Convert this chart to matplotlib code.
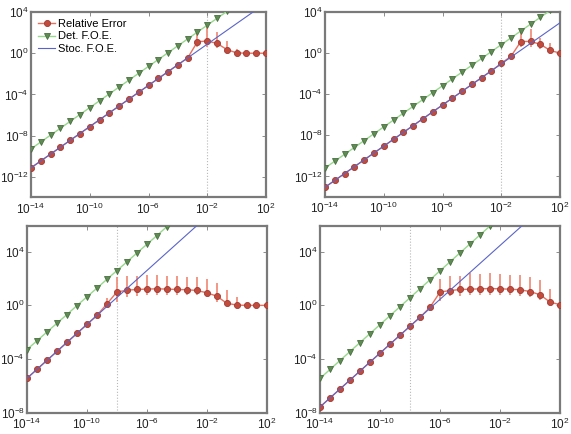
import numpy as np
import matplotlib
matplotlib.use("Agg")
import matplotlib.pyplot as plt
from matplotlib.ticker import FixedLocator, LogFormatterMathtext, NullLocator

plt.rcParams['font.family'] = ['Liberation Sans', 'DejaVu Sans']
plt.rcParams['mathtext.fontset'] = 'custom'
plt.rcParams['mathtext.rm'] = 'Liberation Sans'
plt.rcParams['mathtext.it'] = 'Liberation Sans'

# log10 of the step sizes (25 points, 2/3 decade apart)
x_exp = [-14, -13.33, -12.67, -12, -11.33, -10.67, -10, -9.33, -8.67, -8, -7.33, -6.67,
         -6, -5.33, -4.67, -4, -3.33, -2.67, -2, -1.33, -0.67, 0, 0.67, 1.33, 2]

# ---- top left ----
tl_rel = [-11.12, -10.45, -9.79, -9.12, -8.45, -7.79, -7.12, -6.45, -5.79, -5.12, -4.45, -3.79,
          -3.12, -2.45, -1.79, -1.12, -0.45, 1.11, 1.18, 0.95, 0.36, 0.03, 0.0, 0.0, 0.0]
tl_lo = [None] * 17 + [0.62, 0.56, 0.46, 0.2, 0.0, None, None, None]
tl_hi = [None] * 17 + [2.1, 2.5, 2.1, 1.2, 0.45, None, None, None]
tl_det = [-9.28, -8.61, -7.95, -7.28, -6.61, -5.95, -5.28, -4.61, -3.95, -3.28, -2.61, -1.95,
          -1.28, -0.61, 0.05, 0.72, 1.39, 2.05, 2.72, 3.39, 4.05, 4.72, 5.39, 6.05, 6.72]
tl_stoc = [-11.12, 4.88]

# ---- top right ----
tr_rel = [-13.05, -12.38, -11.72, -11.05, -10.38, -9.72, -9.05, -8.38, -7.72, -7.05, -6.38, -5.72,
          -5.05, -4.38, -3.72, -3.05, -2.38, -1.72, -1.0, -0.3, 1.12, 1.14, 0.85, 0.26, 0.0]
tr_lo = [None] * 20 + [0.58, 0.58, 0.43, 0.1, None]
tr_hi = [None] * 20 + [2.2, 2.3, 1.45, 1.0, None]
tr_det = [-11.18, -10.51, -9.85, -9.18, -8.51, -7.85, -7.18, -6.51, -5.85, -5.18, -4.51, -3.85,
          -3.18, -2.51, -1.85, -1.18, -0.51, 0.15, 0.82, 1.49, 2.15, 2.82, 3.49, 4.15, 4.82]
tr_stoc = [-13.05, 2.95]

# ---- bottom left ----
bl_rel = [-5.42, -4.75, -4.09, -3.42, -2.75, -2.09, -1.42, -0.75, 0.1, 0.99, 1.13, 1.18,
          1.21, 1.23, 1.21, 1.18, 1.16, 1.11, 0.94, 0.69, 0.17, 0.02, 0.0, 0.0, 0.0]
bl_lo = [None] * 8 + [-0.1, 0.27, 0.64, 0.72, 0.79, 0.79, 0.79, 0.79, 0.79, 0.79, 0.72, 0.27,
                      0.05, 0.0, None, None, None]
bl_hi = [None] * 8 + [0.57, 2.13, 2.2, 2.2, 2.27, 2.27, 2.2, 2.2, 2.13, 2.13, 1.98, 1.68,
                      1.16, 0.64, None, None, None]
bl_det = [-3.28, -2.63, -1.98, -1.33, -0.68, -0.02, 0.63, 1.28, 1.93, 2.58, 3.23, 3.88,
          4.53, 5.18, 5.84, 6.49, 7.14, 7.79, 8.44, 9.09, 9.74, 10.39, 11.04, 11.69, 12.34]
bl_stoc = [-5.42, 10.58]

# ---- bottom right ----
br_rel = [-7.55, -6.88, -6.22, -5.55, -4.88, -4.22, -3.55, -2.88, -2.22, -1.55, -0.88, -0.15,
          0.99, 1.1, 1.18, 1.2, 1.23, 1.25, 1.23, 1.2, 1.16, 1.03, 0.79, 0.25, 0.05]
br_lo = [None] * 12 + [0.3, 0.67, 0.72, 0.79, 0.79, 0.79, 0.79, 0.79, 0.72, 0.64, 0.42, 0.2, None]
br_hi = [None] * 12 + [1.96, 2.2, 2.2, 2.4, 2.35, 2.42, 2.35, 2.27, 2.27, 2.13, 1.9, 1.24, None]
br_det = [-5.43, -4.76, -4.1, -3.43, -2.76, -2.1, -1.43, -0.76, -0.1, 0.57, 1.24, 1.9,
          2.57, 3.24, 3.9, 4.57, 5.24, 5.9, 6.57, 7.24, 7.9, 8.57, 9.24, 9.9, 10.57]
br_stoc = [-7.55, 8.45]

red_line = '#e8705e'
red_face = '#c24b3c'
red_edge = '#9c3a36'
bar_col = '#f0907e'
grn_line = '#98d88c'
grn_face = '#5e8c52'
grn_edge = '#4a6e40'
blue = '#5a64c8'
frame = '#7a7a7a'


def panel(pos, rel, lo, hi, det, stoc, ylim, yticks, vline, legend=False):
    ax = fig.add_axes(pos)
    x = 10.0 ** np.array(x_exp)
    y = 10.0 ** np.array(rel)
    lo_v = np.array([np.nan if v is None else v for v in lo], dtype=float)
    hi_v = np.array([np.nan if v is None else v for v in hi], dtype=float)
    m = ~np.isnan(lo_v)
    ax.errorbar(x[m], y[m], yerr=[y[m] - 10.0 ** lo_v[m], 10.0 ** hi_v[m] - y[m]],
                fmt='none', ecolor=bar_col, elinewidth=1.3, capsize=0, zorder=2)
    ax.axvline(vline, color='#b8b8b8', lw=0.8, ls=':', zorder=1)
    ax.plot(x, y, '-o', color=red_line, lw=1.0, ms=4.4, mfc=red_face, mec=red_edge,
            mew=0.6, zorder=3, label='Relative Error')
    ax.plot(x, 10.0 ** np.array(det), '-v', color=grn_line, lw=1.0, ms=4.4, mfc=grn_face,
            mec=grn_edge, mew=0.6, zorder=3, label='Det. F.O.E.')
    ax.plot([x[0], x[-1]], 10.0 ** np.array(stoc), '-', color=blue, lw=0.8, zorder=4,
            label='Stoc. F.O.E.')
    ax.set_xscale('log')
    ax.set_yscale('log')
    ax.set_xlim(1e-14, 1e2)
    ax.set_ylim(*ylim)
    ax.xaxis.set_major_locator(FixedLocator([1e-14, 1e-10, 1e-6, 1e-2, 1e2]))
    ax.yaxis.set_major_locator(FixedLocator(yticks))
    ax.xaxis.set_minor_locator(NullLocator())
    ax.yaxis.set_minor_locator(NullLocator())
    ax.xaxis.set_major_formatter(LogFormatterMathtext())
    ax.yaxis.set_major_formatter(LogFormatterMathtext())
    ax.tick_params(direction='in', length=3, width=0.6, color=frame, labelsize=8.5,
                   labelcolor='#222222', top=True, right=True, pad=1.5)
    ax.tick_params(axis='x', pad=3)
    for s in ax.spines.values():
        s.set_color(frame)
        s.set_linewidth(1.6)
    if legend:
        ax.legend(loc='upper left', fontsize=8, frameon=False, handlelength=1.6,
                  handletextpad=0.2, labelspacing=0.25, borderaxespad=0.2)
    return ax


fig = plt.figure(figsize=(5.71, 4.34), dpi=100)
W, H = 571.0, 434.0
panel([31 / W, (H - 197.5) / H, 235 / W, 185.5 / H], tl_rel, tl_lo, tl_hi, tl_det, tl_stoc,
      (1e-14, 1e4), [1e-12, 1e-8, 1e-4, 1e0, 1e4], 1e-2, legend=True)
panel([325 / W, (H - 197) / H, 235 / W, 185 / H], tr_rel, tr_lo, tr_hi, tr_det, tr_stoc,
      (1e-14, 1e4), [1e-12, 1e-8, 1e-4, 1e0, 1e4], 1e-2)
panel([27 / W, (H - 413) / H, 239.5 / W, 187 / H], bl_rel, bl_lo, bl_hi, bl_det, bl_stoc,
      (1e-8, 10 ** 5.9), [1e-8, 1e-4, 1e0, 1e4], 1e-8)
panel([320 / W, (H - 413) / H, 240 / W, 187 / H], br_rel, br_lo, br_hi, br_det, br_stoc,
      (1e-8, 10 ** 5.9), [1e-8, 1e-4, 1e0, 1e4], 1e-8)

fig.savefig('out.png', dpi=100)
